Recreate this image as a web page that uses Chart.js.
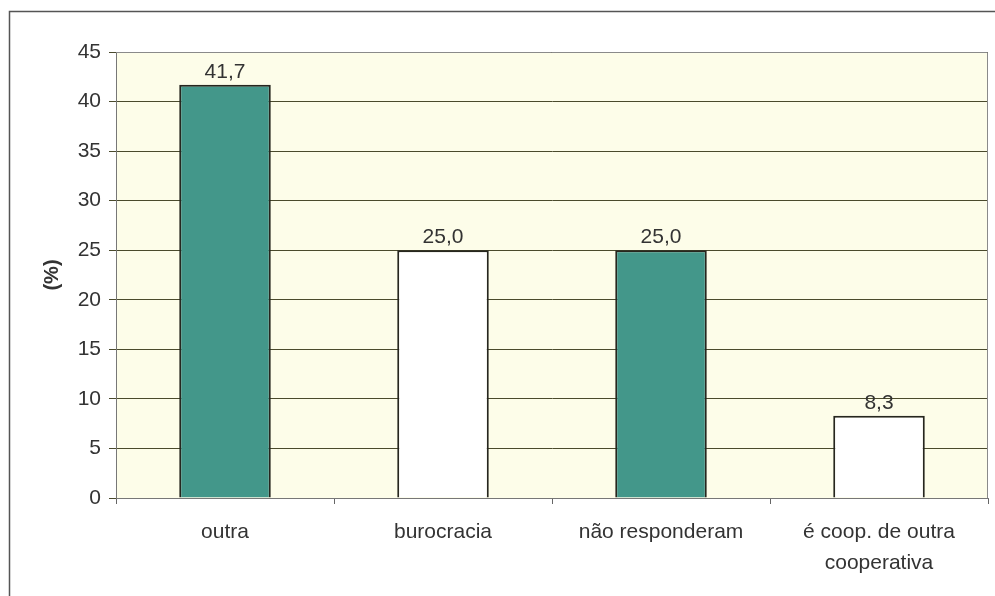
<!DOCTYPE html>
<html>
<head>
<meta charset="utf-8">
<script src="https://cdn.jsdelivr.net/npm/chart.js@4/dist/chart.umd.min.js"></script>
<style>
  html, body { margin: 0; padding: 0; background: #ffffff; }
  #wrap { width: 995px; height: 596px; }
</style>
</head>
<body>
<div id="wrap"><canvas id="chart" width="995" height="596"></canvas></div>
<script>
// Categories (multi-line labels as arrays)
const categories = ['outra', 'burocracia', 'não responderam', ['é coop. de outra', 'cooperativa']];
// Percentages per category
const values = [41.7, 25.0, 25.0, 8.3];
// Value labels shown above each bar (Portuguese decimal comma)
const valueLabels = ['41,7', '25,0', '25,0', '8,3'];
// Alternating fill colours
const barColors = ['#43978a', '#ffffff', '#43978a', '#ffffff'];
// Y axis range
const yMin = 0;
const yMax = 45;
const yStep = 5;
const yTitle = '(%)';

const FONT = "'Liberation Sans', Arial, sans-serif";
const TEXT = '#333333';

// Cream plot background, outer frame, plot border, value labels, axis title
const decor = {
  id: 'decor',
  beforeDraw(chart) {
    const { ctx, chartArea: a } = chart;
    ctx.save();
    ctx.fillStyle = '#ffffff';
    ctx.fillRect(0, 0, chart.width, chart.height);
    ctx.fillStyle = '#fdfde9';
    ctx.fillRect(a.left, a.top, a.right - a.left, a.bottom - a.top);
    // outer frame (top and left edges)
    ctx.strokeStyle = '#555555';
    ctx.lineWidth = 1.5;
    ctx.beginPath();
    ctx.moveTo(995, 11.5);
    ctx.lineTo(9.5, 11.5);
    ctx.lineTo(9.5, 596);
    ctx.stroke();
    ctx.restore();
  },
  afterDraw(chart) {
    const { ctx, chartArea: a } = chart;
    ctx.save();
    // plot top and right border
    ctx.strokeStyle = '#8a8a8a';
    ctx.lineWidth = 1;
    ctx.beginPath();
    ctx.moveTo(a.left, a.top + 0.5);
    ctx.lineTo(a.right - 0.5, a.top + 0.5);
    ctx.lineTo(a.right - 0.5, a.bottom);
    ctx.stroke();
    // value labels
    const meta = chart.getDatasetMeta(0);
    ctx.fillStyle = TEXT;
    ctx.font = '21px ' + FONT;
    ctx.textAlign = 'center';
    ctx.textBaseline = 'alphabetic';
    meta.data.forEach((bar, i) => {
      ctx.fillText(valueLabels[i], bar.x, bar.y - 7);
    });
    // y axis title
    ctx.translate(52, 275);
    ctx.rotate(-Math.PI / 2);
    ctx.font = 'bold 20px ' + FONT;
    ctx.textBaseline = 'middle';
    ctx.fillText(yTitle, 0, 0);
    ctx.restore();
  }
};

new Chart(document.getElementById('chart'), {
  type: 'bar',
  data: {
    labels: categories,
    datasets: [{
      data: values,
      backgroundColor: barColors,
      borderColor: '#26261f',
      borderWidth: 2,
      categoryPercentage: 1.0,
      barPercentage: 0.42
    }]
  },
  options: {
    responsive: false,
    animation: false,
    events: [],
    layout: { padding: { top: 52, right: 7, left: 0, bottom: 0 } },
    plugins: { legend: { display: false }, tooltip: { enabled: false } },
    scales: {
      x: {
        afterFit(scale) { scale.height = 98; },
        grid: { offset: true, drawOnChartArea: false, tickLength: 6, color: '#666666' },
        border: { color: '#777777', width: 1 },
        ticks: {
          color: TEXT,
          padding: 12,
          maxRotation: 0,
          autoSkip: false,
          font: { family: FONT, size: 21, lineHeight: 1.5 }
        }
      },
      y: {
        min: yMin,
        max: yMax,
        afterFit(scale) { scale.width = 116; },
        grid: { color: '#4a4a2c', lineWidth: 1, tickLength: 7 },
        border: { color: '#777777', width: 1 },
        ticks: {
          stepSize: yStep,
          color: TEXT,
          padding: 8,
          font: { family: FONT, size: 21 }
        }
      }
    }
  },
  plugins: [decor]
});
</script>
</body>
</html>
